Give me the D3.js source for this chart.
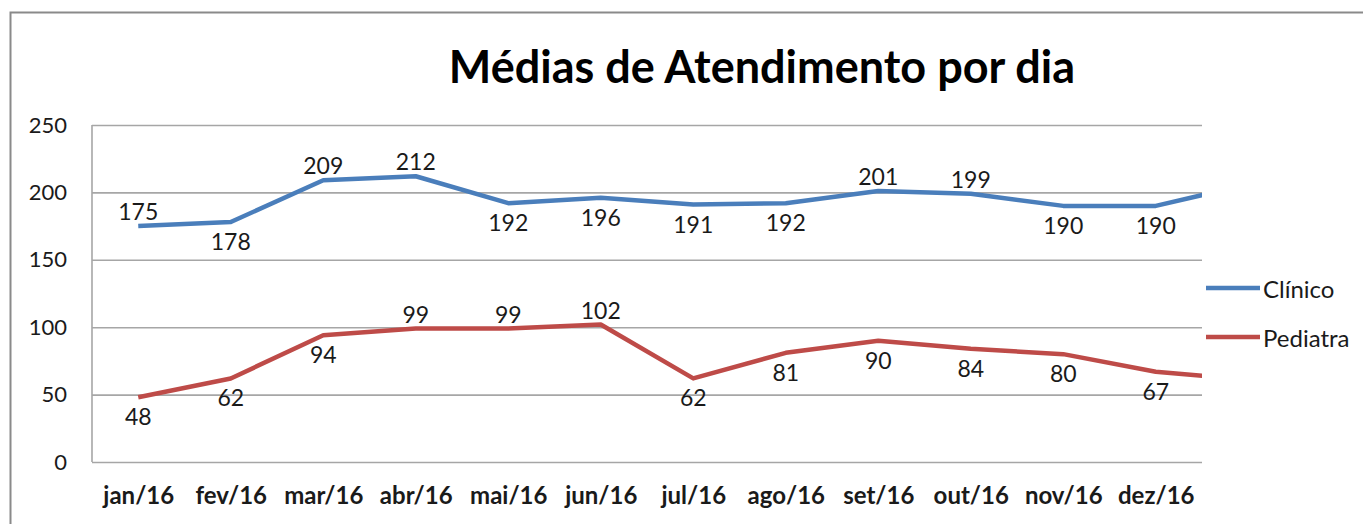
<html>
  <head>
    <meta charset="utf-8">
    <script src="https://d3js.org/d3.v7.min.js"></script>
    <style type="text/css">
      body { margin: 0; background: #fff; }
      svg text { font-family: Lato, "Open Sans", sans-serif; fill: #1a1a1a; }
    </style>
  </head>
  <body>
    <svg width="1363" height="524"></svg>

    <script>
      // months; the last one is clipped by the plot edge like in the source
      var months = ["jan/16", "fev/16", "mar/16", "abr/16", "mai/16", "jun/16",
                    "jul/16", "ago/16", "set/16", "out/16", "nov/16", "dez/16", "jan/17"];
      var clinico = [175, 178, 209, 212, 192, 196, 191, 192, 201, 199, 190, 190, 206];
      var pediatra = [48, 62, 94, 99, 99, 102, 62, 81, 90, 84, 80, 67, 61];
      var yTicks = [0, 50, 100, 150, 200, 250];
      var seriesNames = ["Clínico", "Pediatra"];

      // where each data label sits (a = above, b = below)
      var clinicoSide = "abaabbbbaabb";
      var pediatraSide = "bbbaaabbbbbb";

      var colors = ["#4a7ebb", "#be4b48"];
      var shown = 12; // visible categories

      // note: "top" is taken by window.top, so plot* names
      var plotLeft = 92, plotRight = 1202, plotTop = 125, plotBottom = 462;

      var svg = d3.select("svg");

      // outer chart frame (runs off the right and bottom)
      svg.append("rect")
        .attr("x", 10.5).attr("y", 12.5)
        .attr("width", 1400).attr("height", 600)
        .attr("fill", "none")
        .attr("stroke", "#8a8a8a")
        .attr("stroke-width", 2);

      var x = d3.scalePoint()
        .domain(months)
        .range([plotLeft, plotLeft + (plotRight - plotLeft) * months.length / shown])
        .padding(0.5);

      var y = d3.scaleLinear()
        .domain([0, 250])
        .range([plotBottom, plotTop]);

      // title
      svg.append("text")
        .attr("x", 762).attr("y", 83)
        .attr("text-anchor", "middle")
        .style("font-size", "45px")
        .style("font-weight", "bold")
        .style("fill", "#000")
        .text("Médias de Atendimento por dia");

      // gridlines + y labels
      var yAxis = svg.append("g")
        .attr("transform", "translate(" + plotLeft + ",0)")
        .call(d3.axisLeft(y).tickValues(yTicks).tickSize(-(plotRight - plotLeft)).tickPadding(25));
      yAxis.select(".domain").remove();
      yAxis.selectAll(".tick line")
        .attr("stroke", "#a6a6a6")
        .attr("stroke-width", 1.6);
      yAxis.selectAll(".tick text")
        .style("font-size", "22px")
        .attr("fill", "#1a1a1a");

      // plot area left border
      svg.append("line")
        .attr("x1", plotLeft).attr("x2", plotLeft)
        .attr("y1", plotTop).attr("y2", plotBottom)
        .attr("stroke", "#a6a6a6")
        .attr("stroke-width", 1.6);

      // x labels
      var xAxis = svg.append("g")
        .attr("transform", "translate(0," + plotBottom + ")")
        .call(d3.axisBottom(x).tickValues(months.slice(0, shown)).tickSize(0).tickPadding(25));
      xAxis.select(".domain").remove();
      xAxis.selectAll(".tick text")
        .style("font-size", "24px")
        .style("font-weight", "bold")
        .attr("fill", "#1a1a1a");

      svg.append("clipPath").attr("id", "plotclip")
        .append("rect")
        .attr("x", plotLeft).attr("y", 0)
        .attr("width", plotRight - plotLeft).attr("height", 524);

      var line = d3.line()
        .x(function(d, i) { return x(months[i]); })
        .y(function(d) { return y(d); });

      var all = [clinico, pediatra];
      var sides = [clinicoSide, pediatraSide];

      all.forEach(function(vals, s) {
        svg.append("path")
          .datum(vals)
          .attr("clip-path", "url(#plotclip)")
          .attr("fill", "none")
          .attr("stroke", colors[s])
          .attr("stroke-width", 4.5)
          .attr("stroke-linejoin", "round")
          .attr("d", line);

        svg.append("g").selectAll("text")
          .data(vals.slice(0, shown))
          .enter().append("text")
          .attr("x", function(d, i) { return x(months[i]); })
          .attr("y", function(d, i) { return y(d) + (sides[s][i] == "a" ? -15 : 19); })
          .attr("text-anchor", "middle")
          .attr("dominant-baseline", "central")
          .style("font-size", "23px")
          .text(function(d) { return d; });
      });

      // legend
      var legend = svg.append("g");
      seriesNames.forEach(function(name, i) {
        var ly = 288 + i * 49;
        legend.append("line")
          .attr("x1", 1206).attr("x2", 1260)
          .attr("y1", ly).attr("y2", ly)
          .attr("stroke", colors[i])
          .attr("stroke-width", 4.5);
        legend.append("text")
          .attr("x", 1263).attr("y", ly)
          .attr("dominant-baseline", "central")
          .style("font-size", "24px")
          .text(name);
      });
    </script>
  </body>
</html>
